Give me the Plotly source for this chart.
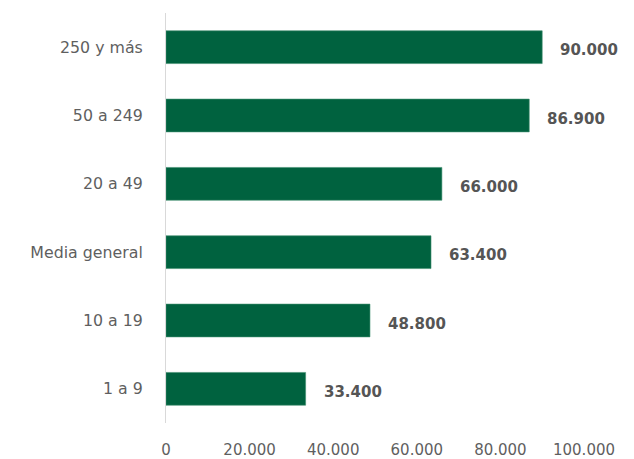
import plotly.graph_objects as go

categories = ["1 a 9", "10 a 19", "Media general", "20 a 49", "50 a 249", "250 y más"]
values = [33400, 48800, 63400, 66000, 86900, 90000]
tick_vals = [0, 20000, 40000, 60000, 80000, 100000]

bar_color = "#00623F"
font_family = "DejaVu Sans, sans-serif"
text_color = "#5f5f5f"

fig = go.Figure()
fig.add_trace(go.Bar(
    x=values, y=categories, orientation="h",
    marker=dict(color=bar_color, line=dict(color="#3f8f6f", width=0.6)),
    width=0.48, hoverinfo="skip",
))

for c, v in zip(categories, values):
    fig.add_annotation(
        x=v, y=c, xref="x", yref="y",
        text="<b>" + f"{v:,}".replace(",", ".") + "</b>",
        showarrow=False, xanchor="left", xshift=16, yshift=-3,
        font=dict(family=font_family, size=15, color="#555555"),
    )

fig.update_layout(
    width=634, height=459,
    margin=dict(l=158, r=58, t=5, b=44),
    paper_bgcolor="white", plot_bgcolor="white",
    separators=",.",
    showlegend=False,
    font=dict(family=font_family, color=text_color),
)
fig.update_xaxes(
    range=[0, 100000], tickvals=tick_vals, tickformat=",d",
    showgrid=False, zeroline=False, showline=False,
    tickfont=dict(size=15, color=text_color), ticks="", ticklabelstandoff=16,
)
fig.update_yaxes(
    showgrid=False, zeroline=False, showline=True, linecolor="#d9d9d9", linewidth=1,
    tickfont=dict(size=15.8, color=text_color), ticks="", ticklabelstandoff=19,
)

fig.write_html("out.html")
